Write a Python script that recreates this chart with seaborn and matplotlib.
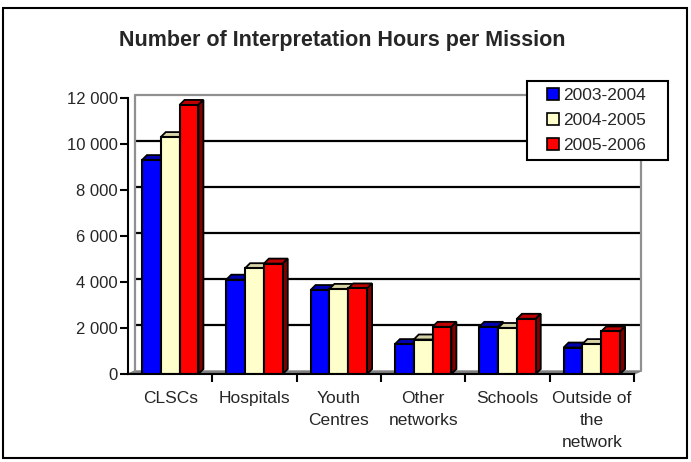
import numpy as np
import pandas as pd
import matplotlib
matplotlib.use("Agg")
import matplotlib.pyplot as plt
import seaborn as sns
from matplotlib.patches import Polygon, Rectangle
from matplotlib.ticker import FuncFormatter, FixedLocator
from matplotlib.legend_handler import HandlerPatch

categories = ["CLSCs", "Hospitals", "Youth\nCentres", "Other\nnetworks", "Schools", "Outside of\nthe\nnetwork"]
series_names = ["2003-2004", "2004-2005", "2005-2006"]
v2003 = [9300, 4100, 3650, 1300, 2050, 1150]
v2004 = [10300, 4600, 3700, 1500, 2000, 1300]
v2005 = [11700, 4800, 3720, 2050, 2400, 1850]
title = "Number of Interpretation Hours per Mission"

front = ["#0000FF", "#FFFFCC", "#FF0000"]
tops = ["#0000B0", "#D6D3A6", "#C00000"]
sides = ["#000080", "#A9A67E", "#800000"]

rows = []
for name, vals in zip(series_names, [v2003, v2004, v2005]):
    for c, v in zip(categories, vals):
        rows.append({"cat": c, "series": name, "hours": v})
df = pd.DataFrame(rows)

sns.set_style("white")
plt.rcParams["font.family"] = ["Liberation Sans", "DejaVu Sans"]

W, H = 691, 462
fig = plt.figure(figsize=(W / 100, H / 100), dpi=100)
ax = fig.add_axes([128 / W, 1 - 374 / H, 506 / W, 276 / H])

sns.barplot(data=df, x="cat", y="hours", hue="series", order=categories,
            hue_order=series_names, palette=front, width=0.67, ax=ax,
            edgecolor="black", linewidth=1.5, saturation=1, legend=True, zorder=3)

ax.set_xlim(-0.5, 5.5)
ax.set_ylim(0, 12000)

# 3D offsets in data units
px_x = 6 / 506
px_y = 12000 / 276
dx, dy = 5 * px_x, 5 * px_y

# back wall / floor
wx, wy = 7 * px_x, 3 * px_y
ax.add_patch(Polygon([(-0.5, 0), (5.5, 0), (5.5 + wx, wy), (-0.5 + wx, wy)],
                     closed=True, facecolor="#808080", edgecolor="#808080", zorder=1, clip_on=False))
for yv in range(2000, 12001, 2000):
    ax.plot([-0.5 + wx, 5.5 + wx], [yv + wy, yv + wy], color="black" if yv < 12000 else "#909090",
            lw=1.6, zorder=1, clip_on=False)
ax.plot([-0.5 + wx, -0.5 + wx], [wy, 12000 + wy], color="#909090", lw=1.6, zorder=1, clip_on=False)
ax.plot([5.5 + wx, 5.5 + wx], [wy, 12000 + wy], color="#909090", lw=1.6, zorder=1, clip_on=False)

# 3D top and side faces, derived from the bar patches
for i, cont in enumerate(ax.containers):
    for p in cont.patches:
        x0 = p.get_x(); w = p.get_width(); h = p.get_height()
        x1 = x0 + w
        ax.add_patch(Polygon([(x0, h), (x1, h), (x1 + dx, h + dy), (x0 + dx, h + dy)], closed=True,
                             facecolor=tops[i], edgecolor="black", lw=1.3, zorder=2.5, clip_on=False))
        ax.add_patch(Polygon([(x1, 0), (x1, h), (x1 + dx, h + dy), (x1 + dx, dy)], closed=True,
                             facecolor=sides[i], edgecolor="black", lw=1.3, zorder=2.5, clip_on=False))

for s in ["top", "right"]:
    ax.spines[s].set_visible(False)
for s in ["left", "bottom"]:
    ax.spines[s].set_color("black")
    ax.spines[s].set_linewidth(1.5)
    ax.spines[s].set_zorder(5)

ax.set_yticks(range(0, 12001, 2000))
ax.yaxis.set_major_formatter(FuncFormatter(lambda v, p: f"{int(v):,}".replace(",", " ")))
ax.tick_params(axis="y", length=6, width=1.5, color="black", labelsize=12, pad=1.5, left=True)
ax.set_xticks(range(len(categories)))
ax.set_xticklabels(categories, linespacing=1.6)
ax.xaxis.set_minor_locator(FixedLocator([0.5, 1.5, 2.5, 3.5, 4.5, 5.5]))
ax.tick_params(axis="x", which="major", length=0, labelsize=12.5, pad=12)
ax.tick_params(axis="x", which="minor", length=6, width=1.5, color="black", bottom=True)
ax.set_xlabel("")
ax.set_ylabel("")
ax.grid(False)


def square_patch(legend, orig_handle, xdescent, ydescent, width, height, fontsize):
    s = height * 1.05
    return Rectangle((-xdescent + width - s, -ydescent - (s - height) / 2), s, s)


leg = ax.legend(loc="upper left", bbox_to_anchor=(527 / W, 1 - 160 / H, 141 / W, 79 / H),
                bbox_transform=fig.transFigure, mode="expand", framealpha=1,
                frameon=True, fancybox=False, edgecolor="black", fontsize=12.5, handlelength=1.45,
                handleheight=0.62, handletextpad=0.25, borderpad=0.4, labelspacing=0.58, borderaxespad=0,
                handler_map={Rectangle: HandlerPatch(patch_func=square_patch)})
leg.get_frame().set_linewidth(1.5)
leg.set_zorder(10)
for hnd in leg.legend_handles:
    hnd.set_edgecolor("black")
    hnd.set_linewidth(1.2)

fig.text(342 / W, 1 - 46 / H, title, ha="center", va="baseline", fontsize=15.5, fontweight="bold")
fig.patches.append(Rectangle((3 / W, 4 / H), 684 / W, 450 / H, transform=fig.transFigure,
                             fill=False, edgecolor="black", lw=1.5))

fig.savefig("out.png", dpi=100)
